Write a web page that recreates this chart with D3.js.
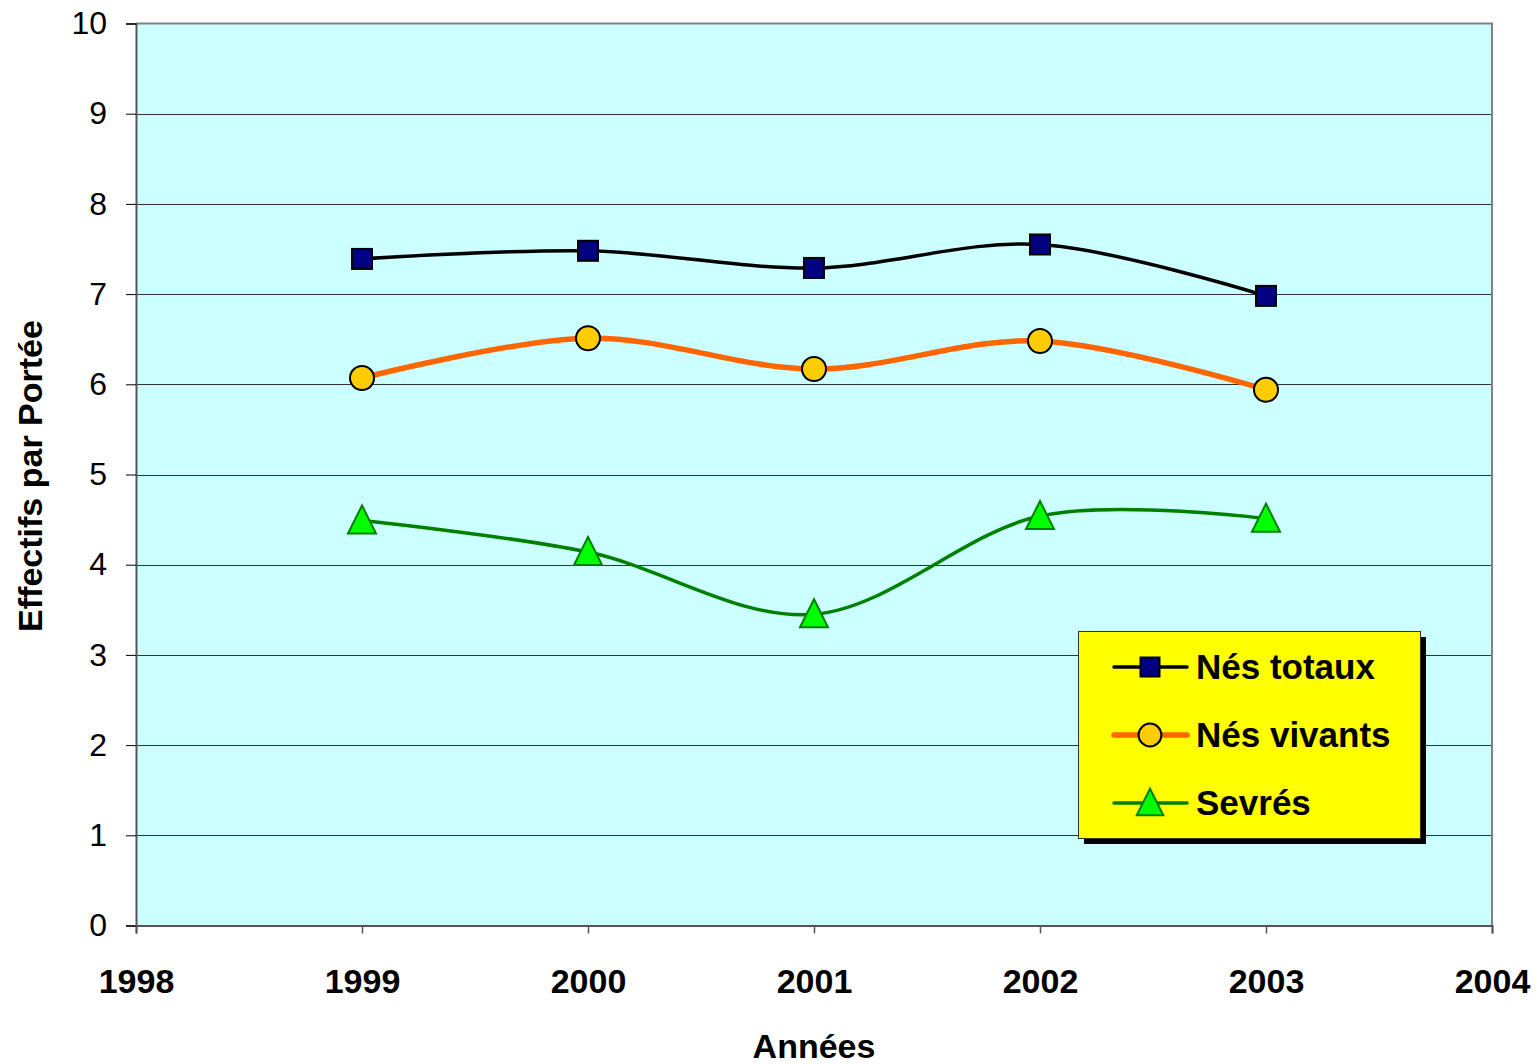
<!DOCTYPE html>
<html>
<head>
<meta charset="utf-8">
<script src="https://cdn.jsdelivr.net/npm/d3@7"></script>
<style>
  html, body { margin: 0; padding: 0; background: #ffffff; }
  svg { display: block; font-family: "Liberation Sans", Arial, sans-serif; }
</style>
</head>
<body>
<svg id="chart" width="1536" height="1064"></svg>
<script>
// Litter sizes per year
const years = [1999, 2000, 2001, 2002, 2003];
const nesTotaux = [7.39, 7.48, 7.29, 7.55, 6.98];
const nesVivants = [6.07, 6.51, 6.17, 6.48, 5.94];
const sevres = [4.49, 4.14, 3.45, 4.54, 4.51];
const seriesNames = ["Nés totaux", "Nés vivants", "Sevrés"];
const xTicks = [1998, 1999, 2000, 2001, 2002, 2003, 2004];
const yTicks = [0, 1, 2, 3, 4, 5, 6, 7, 8, 9, 10];

const svg = d3.select("#chart");
const plot = { left: 136, right: 1492, top: 23.5, bottom: 925.5 };

const x = d3.scaleLinear().domain([1998, 2004]).range([plot.left, plot.right]);
const y = d3.scaleLinear().domain([0, 10]).range([plot.bottom, plot.top]);

// Plot background
svg.append("rect")
  .attr("x", plot.left).attr("y", plot.top)
  .attr("width", plot.right - plot.left).attr("height", plot.bottom - plot.top)
  .attr("fill", "#ccffff");

// Horizontal gridlines
svg.append("g").selectAll("line").data(yTicks.filter(d => d > 0 && d < 10)).join("line")
  .attr("x1", plot.left).attr("x2", plot.right)
  .attr("y1", d => Math.round(y(d)) + 0.5).attr("y2", d => Math.round(y(d)) + 0.5)
  .attr("stroke", "#333333").attr("stroke-width", 1);

// Plot frame (top and right)
svg.append("path")
  .attr("d", `M${plot.left},${plot.top}H${plot.right}V${plot.bottom}`)
  .attr("fill", "none").attr("stroke", "#808080").attr("stroke-width", 2);

// Y axis
const yAxis = d3.axisLeft(y).tickValues(yTicks).tickSize(10).tickPadding(8).tickFormat(d3.format("d"));
const gy = svg.append("g").attr("transform", `translate(${plot.left},0)`).call(yAxis);
gy.select(".domain").attr("stroke", "#555555").attr("stroke-width", 2);
gy.selectAll(".tick line").attr("stroke", "#000000").attr("stroke-width", 1);
gy.selectAll(".tick text").attr("font-size", 32).attr("font-family", "Liberation Sans, Arial, sans-serif")
  .attr("fill", "#000000").attr("dx", -11);

// X axis
const xAxis = d3.axisBottom(x).tickValues(xTicks).tickSize(8).tickPadding(0).tickFormat(d3.format("d"));
const gx = svg.append("g").attr("transform", `translate(0,${plot.bottom})`).call(xAxis);
gx.select(".domain").attr("stroke", "#555555").attr("stroke-width", 2);
gx.selectAll(".tick line").attr("stroke", "#555555").attr("stroke-width", 1.5);
gx.selectAll(".tick text").attr("font-size", 34).attr("font-weight", "bold")
  .attr("font-family", "Liberation Sans, Arial, sans-serif").attr("fill", "#000000")
  .attr("y", 993 - plot.bottom).attr("dy", null);

// Axis titles
svg.append("text")
  .attr("x", (plot.left + plot.right) / 2).attr("y", 1058)
  .attr("text-anchor", "middle").attr("font-size", 34).attr("font-weight", "bold")
  .text("Années");
svg.append("text")
  .attr("transform", `translate(42,${476}) rotate(-90)`)
  .attr("text-anchor", "middle").attr("font-size", 34).attr("font-weight", "bold")
  .text("Effectifs par Portée");

// Series styles
const series = [
  { name: seriesNames[0], values: nesTotaux, stroke: "#000000", width: 3.5, marker: "square", fill: "#000080", mstroke: "#000000" },
  { name: seriesNames[1], values: nesVivants, stroke: "#ff6600", width: 5.5, marker: "circle", fill: "#ffcc00", mstroke: "#000000" },
  { name: seriesNames[2], values: sevres, stroke: "#008000", width: 3.5, marker: "triangle", fill: "#00ff00", mstroke: "#008000" }
];

const line = d3.line()
  .x((d, i) => x(years[i]))
  .y(d => y(d))
  .curve(d3.curveCardinal.tension(0));

function drawMarker(g, type, cx, cy, s, fill, stroke) {
  if (type === "square") {
    g.append("rect").attr("x", cx - s * 10).attr("y", cy - s * 10)
      .attr("width", s * 20).attr("height", s * 20)
      .attr("fill", fill).attr("stroke", stroke).attr("stroke-width", 2);
  } else if (type === "circle") {
    g.append("circle").attr("cx", cx).attr("cy", cy).attr("r", s * 12)
      .attr("fill", fill).attr("stroke", stroke).attr("stroke-width", 2);
  } else {
    const h = 28 * s, w = 28 * s;
    g.append("path")
      .attr("d", `M${cx},${cy - h / 2 - 1}L${cx + w / 2},${cy + h / 2 - 1}L${cx - w / 2},${cy + h / 2 - 1}Z`)
      .attr("fill", fill).attr("stroke", stroke).attr("stroke-width", 2).attr("stroke-linejoin", "miter");
  }
}

series.forEach(s => {
  svg.append("path").datum(s.values)
    .attr("d", line)
    .attr("fill", "none").attr("stroke", s.stroke).attr("stroke-width", s.width)
    .attr("stroke-linejoin", "round");
});
series.forEach(s => {
  const g = svg.append("g");
  s.values.forEach((v, i) => drawMarker(g, s.marker, x(years[i]), y(v), 1, s.fill, s.mstroke));
});

// Legend
const lg = svg.append("g");
const box = { x: 1078, y: 631, w: 342, h: 207 };
lg.append("rect").attr("x", box.x + 6).attr("y", box.y + 6).attr("width", box.w).attr("height", box.h).attr("fill", "#000000");
lg.append("rect").attr("x", box.x + 0.5).attr("y", box.y + 0.5).attr("width", box.w).attr("height", box.h)
  .attr("fill", "#ffff00").attr("stroke", "#333333").attr("stroke-width", 1);
const rowY = [667, 735, 803];
series.forEach((s, i) => {
  const cy = rowY[i];
  lg.append("line").attr("x1", 1114).attr("x2", 1187).attr("y1", cy).attr("y2", cy)
    .attr("stroke", s.stroke).attr("stroke-width", s.width).attr("stroke-linecap", "round");
  drawMarker(lg, s.marker, 1150, cy, 0.95, s.fill, s.mstroke);
  lg.append("text").attr("x", 1196).attr("y", cy + 12)
    .attr("font-size", 35).attr("font-weight", "bold").attr("fill", "#000000")
    .text(s.name);
});
</script>
</body>
</html>
